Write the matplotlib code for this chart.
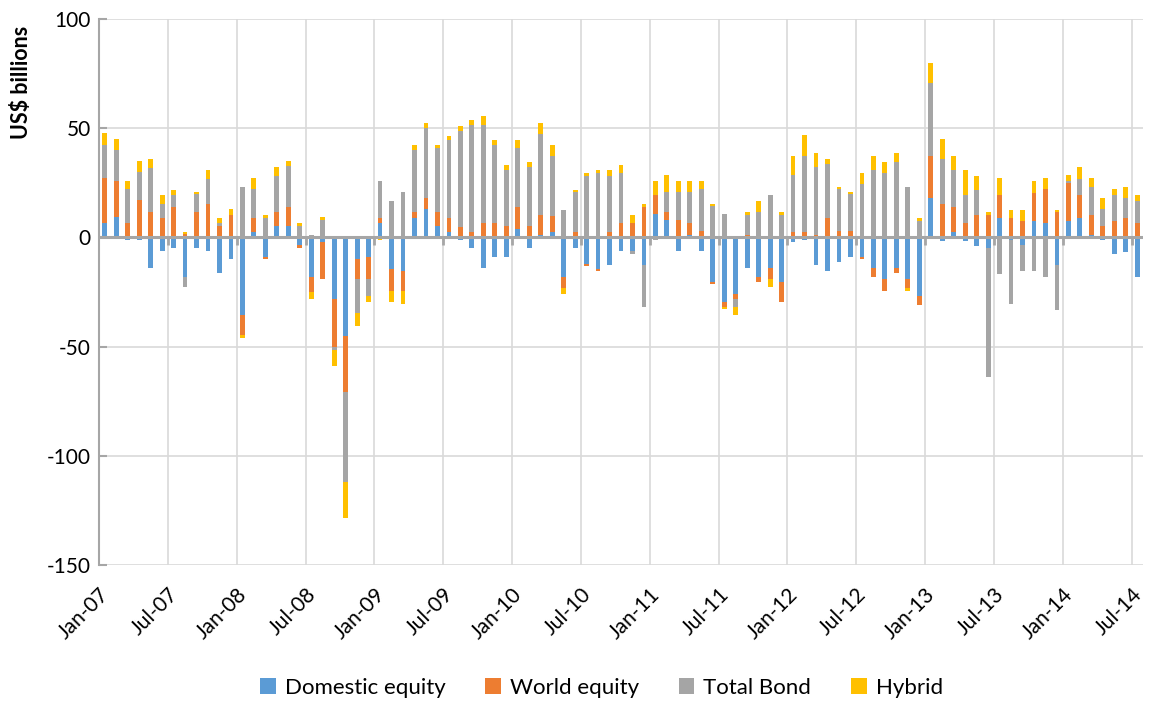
import matplotlib.pyplot as plt
import numpy as np

plt.rcParams['font.family'] = ['Lato', 'DejaVu Sans']

# monthly net flows, Jan-07 .. Jul-14, US$ billions
domestic = np.array([6.5, 9.2, -1.2, -1.0, -13.8, -6.2, -4.9, -18.0, -4.9, -6.2, -16.5, -10.0,
                     -35.7, 2.5, -8.8, 5.0, 5.0, -3.7, -18.0, -2.3, -28.3, -45.0, -10.0, -8.9,
                     6.5, -14.3, -15.5, 9.0, 13.0, 5.0, 2.5, -1.2, -5.0, -14.0, -8.9, -8.9,
                     3.8, -5.0, 1.1, 2.3, -18.2, -5.0, -12.0, -14.3, -12.8, -6.3, -6.3, -12.6,
                     10.5, 7.8, -6.2, 1.2, -6.2, -20.3, -29.5, -25.7, -13.8, -18.0, -13.8, -20.3,
                     -2.3, -1.1, -12.6, -15.2, -11.4, -8.8, -8.8, -13.8, -19.0, -13.8, -19.2, -27.0,
                     18.0, -1.5, 2.6, -1.5, -3.8, -5.0, 8.8, -1.4, -3.7, 7.7, 6.6, -12.6,
                     7.7, 8.9, 1.2, -1.4, -7.7, -6.5, -18.0])
world = np.array([20.5, 16.6, 6.6, 17.0, 11.7, 8.9, 14.0, 1.5, 11.7, 15.4, 5.0, 10.2,
                  -8.9, 6.5, -1.2, 6.5, 9.0, -1.2, -7.2, -16.8, -22.0, -25.8, -9.0, -10.3,
                  2.3, -10.3, -9.0, 2.5, 5.0, 6.6, 6.3, 4.9, 2.3, 6.5, 6.5, 5.2,
                  10.0, 5.2, 9.2, 7.7, -5.0, 2.3, -1.1, -1.2, 2.3, 6.5, 6.5, 14.0,
                  9.0, 3.7, 7.8, 5.4, 2.8, -1.2, -2.3, -2.6, 1.2, -2.3, -5.2, -9.2,
                  2.5, 2.5, 1.2, 8.9, 2.8, 2.8, -1.2, -4.2, -5.4, -2.6, -4.0, -3.8,
                  19.2, 15.4, 11.5, 6.5, 10.3, 10.3, 10.5, 8.9, 7.7, 12.8, 15.4, 11.5,
                  17.0, 10.5, 9.2, 5.0, 7.7, 8.9, 6.6])
bond = np.array([15.5, 14.2, 15.4, 12.8, 20.3, 6.5, 5.4, -4.9, 8.0, 11.5, 1.4, 0.0,
                 23.0, 13.0, 9.0, 16.6, 18.5, 5.0, 1.2, 7.8, -1.1, -41.0, -15.5, -7.7,
                 17.0, 16.8, 20.6, 28.3, 32.0, 29.5, 36.0, 44.0, 49.0, 45.0, 36.0, 25.5,
                 27.2, 27.0, 37.2, 27.2, 12.6, 18.3, 28.0, 29.5, 26.0, 23.0, -1.4, -19.2,
                 -1.1, 9.2, 13.0, 14.2, 19.2, 14.3, 10.5, -3.5, 9.2, 11.7, 19.4, 10.2,
                 26.0, 35.0, 31.0, 24.6, 19.2, 17.0, 24.6, 31.0, 29.7, 34.6, 23.1, 7.5,
                 33.4, 20.6, 16.6, 12.8, 11.5, -59.0, -16.6, -29.2, -11.5, -15.2, -18.0, -20.8,
                 1.2, 7.5, 12.6, 8.0, 11.7, 9.2, 10.0])
hybrid = np.array([5.2, 5.0, 3.8, 5.0, 4.0, 4.0, 2.5, 1.2, 1.1, 3.8, 2.5, 2.6,
                   -1.5, 5.0, 1.2, 4.2, 2.3, 1.5, -2.8, 1.4, -7.7, -16.6, -6.2, -2.8,
                   -1.2, -4.8, -6.2, 2.6, 2.6, 1.4, 1.5, 2.3, 2.5, 4.0, 2.3, 2.6,
                   3.8, 2.5, 5.0, 5.0, -2.8, 1.2, 1.5, 1.2, 2.5, 3.8, 3.8, 1.4,
                   6.5, 7.7, 5.0, 5.0, 3.8, 1.2, -1.2, -3.8, 1.2, 5.2, -3.8, 1.5,
                   8.9, 9.2, 6.3, 2.6, 1.2, 1.1, 5.0, 6.5, 5.0, 4.0, -1.4, 1.5,
                   9.2, 8.9, 6.5, 11.5, 6.5, 1.2, 7.7, 3.8, 5.0, 5.4, 5.0, 1.2,
                   2.6, 5.4, 4.0, 5.0, 2.6, 5.0, 2.8])

tick_labels = ['Jan-07', 'Jul-07', 'Jan-08', 'Jul-08', 'Jan-09', 'Jul-09', 'Jan-10', 'Jul-10',
               'Jan-11', 'Jul-11', 'Jan-12', 'Jul-12', 'Jan-13', 'Jul-13', 'Jan-14', 'Jul-14']

names = ['Domestic equity', 'World equity', 'Total Bond', 'Hybrid']
colors = ['#5B9BD5', '#ED7D31', '#A5A5A5', '#FFC000']

n = len(domestic)
x = np.arange(n) + 0.5

fig = plt.figure(figsize=(11.5, 7.04), dpi=100)
ax = fig.add_axes([0.0861, 0.1974, 0.9078, 0.7756])

# excel style stacking: positives up from zero, negatives down from zero
pos_bottom = np.zeros(n)
neg_bottom = np.zeros(n)
for vals, c, name in zip([domestic, world, bond, hybrid], colors, names):
    b = np.where(vals >= 0, pos_bottom, neg_bottom)
    ax.bar(x, vals, 0.42, bottom=b, color=c, label=name, zorder=3)
    pos_bottom = pos_bottom + np.clip(vals, 0, None)
    neg_bottom = neg_bottom + np.clip(vals, None, 0)

ax.set_xlim(0, n)
ax.set_ylim(-150, 100)
ax.set_yticks([-150, -100, -50, 0, 50, 100])
ax.set_yticklabels(['-150', '-100', '-50', '0', '50', '100'], fontsize=15)

xt = np.arange(0, n, 6)
ax.set_xticks(xt)
ax.set_xticklabels(tick_labels, rotation=45, ha='right', rotation_mode='anchor', fontsize=15)
ax.tick_params(axis='x', length=0, pad=14)
ax.tick_params(axis='y', direction='in', length=6, color='#A6A6A6', width=1.5, pad=6)

ax.grid(True, color='#D9D9D9', linewidth=1.2, zorder=0)
ax.xaxis.get_gridlines()[0].set_visible(False)
for s in ['top', 'right', 'bottom']:
    ax.spines[s].set_visible(False)
ax.spines['left'].set_color('#A6A6A6')
ax.spines['left'].set_linewidth(1.5)

# zero axis with tick marks hanging below
ax.axhline(0, color='#A6A6A6', linewidth=2.2, zorder=4)
ax.vlines(xt[1:], -3.5, 0, color='#A6A6A6', linewidth=2, zorder=4)

fig.text(22 / 1150, 1 - 82 / 704, 'US$ billions', rotation=90, ha='center', va='center',
         fontsize=15.5, fontweight='bold')

fig.legend(loc='center', bbox_to_anchor=(0.523, 0.023), ncol=4, frameon=False, fontsize=16,
           handlelength=0.7, handleheight=0.7, columnspacing=1.8, handletextpad=0.4)

fig.savefig('out.png', dpi=100)
